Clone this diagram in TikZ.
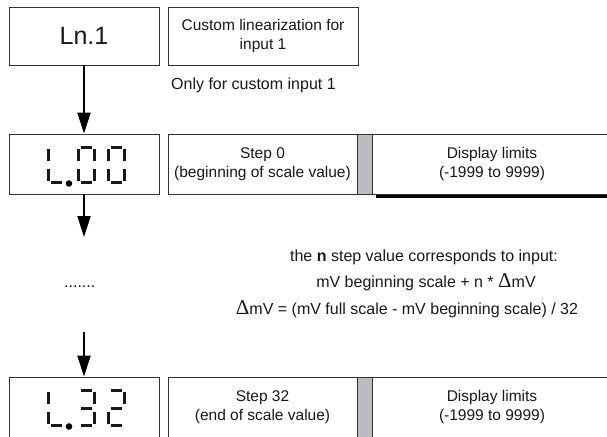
\documentclass[tikz,border=0pt]{standalone}
\usepackage{fontspec}
\setmainfont{Liberation Sans}
\newfontfamily\deltafont{Liberation Serif}
\usetikzlibrary{arrows.meta}
\definecolor{bargray}{RGB}{187,188,192}
\newcommand\Dl{{\deltafont\fontsize{21}{21}\selectfont Δ}}
% seven-segment helpers: #1 = cell left x, #2 = box top y
\newcommand\sgA[2]{\draw[seg] ({#1+2.5},{#2+13}) -- ({#1+13.5},{#2+13});}
\newcommand\sgB[2]{\draw[seg] ({#1+16},{#2+14.5}) -- ({#1+16},{#2+27});}
\newcommand\sgC[2]{\draw[seg] ({#1+16},{#2+34.5}) -- ({#1+16},{#2+47});}
\newcommand\sgD[2]{\draw[seg] ({#1+2.5},{#2+48.5}) -- ({#1+13.5},{#2+48.5});}
\newcommand\sgE[2]{\draw[seg] ({#1},{#2+34.5}) -- ({#1},{#2+47});}
\newcommand\sgF[2]{\draw[seg] ({#1},{#2+14.5}) -- ({#1},{#2+27});}
\newcommand\sgG[2]{\draw[seg] ({#1+2.5},{#2+31}) -- ({#1+13.5},{#2+31});}
\newcommand\digitL[2]{\sgF{#1}{#2}\sgE{#1}{#2}\sgD{#1}{#2}}
\newcommand\digitZero[2]{\sgA{#1}{#2}\sgB{#1}{#2}\sgC{#1}{#2}\sgD{#1}{#2}\sgE{#1}{#2}\sgF{#1}{#2}}
\newcommand\digitThree[2]{\sgA{#1}{#2}\sgB{#1}{#2}\sgC{#1}{#2}\sgD{#1}{#2}\sgG{#1}{#2}}
\newcommand\digitTwo[2]{\sgA{#1}{#2}\sgB{#1}{#2}\sgG{#1}{#2}\sgE{#1}{#2}\sgD{#1}{#2}}
\newcommand\segdot[1]{\fill[black] (69,{#1+49.5}) circle (3.3pt);}
\begin{document}
\begin{tikzpicture}[x=1pt,y=-1pt,
  box/.style={draw=black!80, line width=0.8pt, inner sep=0pt, align=center,
              font=\fontsize{15.5}{19}\selectfont, text=black!90},
  bar/.style={draw=black!80, line width=0.8pt, fill=bargray, inner sep=0pt},
  seg/.style={line width=3pt, line cap=butt, black!90},
  arr/.style={line width=2.1pt, black, -{Triangle[length=21pt,width=13pt]}},
  free/.style={inner sep=0pt, font=\fontsize{16}{19}\selectfont, text=black!90}]
\useasboundingbox (0,0) rectangle (607,436);
\fill[white] (0,0) rectangle (607,436);
\clip (0,0) rectangle (607,436);

% top row
\node[box, minimum width=150pt, minimum height=58pt, font=\fontsize{25}{28}\selectfont] (ln) at (84,36) {Ln.1};
\node[box, minimum width=190pt, minimum height=58pt] (cust) at (263,36) {Custom linearization for\\input 1};
\node[free, anchor=west] (only) at (171,85) {Only for custom input 1};

% row 2
\node[box, minimum width=150pt, minimum height=60pt] (d0) at (84,164) {};
\node[box, minimum width=189pt, minimum height=60pt] (s0) at (262.5,164) {Step 0\\(beginning of scale value)};
\node[bar, minimum width=15pt, minimum height=60pt] (b0) at (364.5,164) {};
\node[box, minimum width=240pt, minimum height=60pt] (l0) at (492,164) {Display limits\\(-1999 to 9999)};
\draw[line width=3pt, black] (376,196.5) -- (612,196.5);
\digitL{48}{134}\segdot{134}\digitZero{78}{134}\digitZero{108}{134}

% row 3
\node[box, minimum width=150pt, minimum height=60pt] (d32) at (84,407) {};
\node[box, minimum width=189pt, minimum height=60pt] (s32) at (262.5,407) {Step 32\\(end of scale value)};
\node[bar, minimum width=15pt, minimum height=60pt] (b32) at (364.5,407) {};
\node[box, minimum width=240pt, minimum height=60pt] (l32) at (492,407) {Display limits\\(-1999 to 9999)};
\digitL{48}{377}\segdot{377}\digitThree{78}{377}\digitTwo{108}{377}

% middle text
\node[free, anchor=base] (t1) at (424,261.5) {the \textbf{n} step value corresponds to input:};
\node[free, anchor=base] (t2) at (426,287) {mV beginning scale + n * \Dl mV};
\node[free, anchor=base] (t3) at (407,314) {\Dl mV = (mV full scale - mV beginning scale) / 32};
\node[free, anchor=base west] (dots) at (64,287) {.......};

% arrows
\coordinate (a2end) at (84,237);
\coordinate (a3start) at (84,332);
\draw[arr] (ln.south) -- (d0.north);
\draw[arr] (d0.south) -- (a2end);
\draw[arr] (a3start) -- (d32.north);
\end{tikzpicture}
\end{document}
